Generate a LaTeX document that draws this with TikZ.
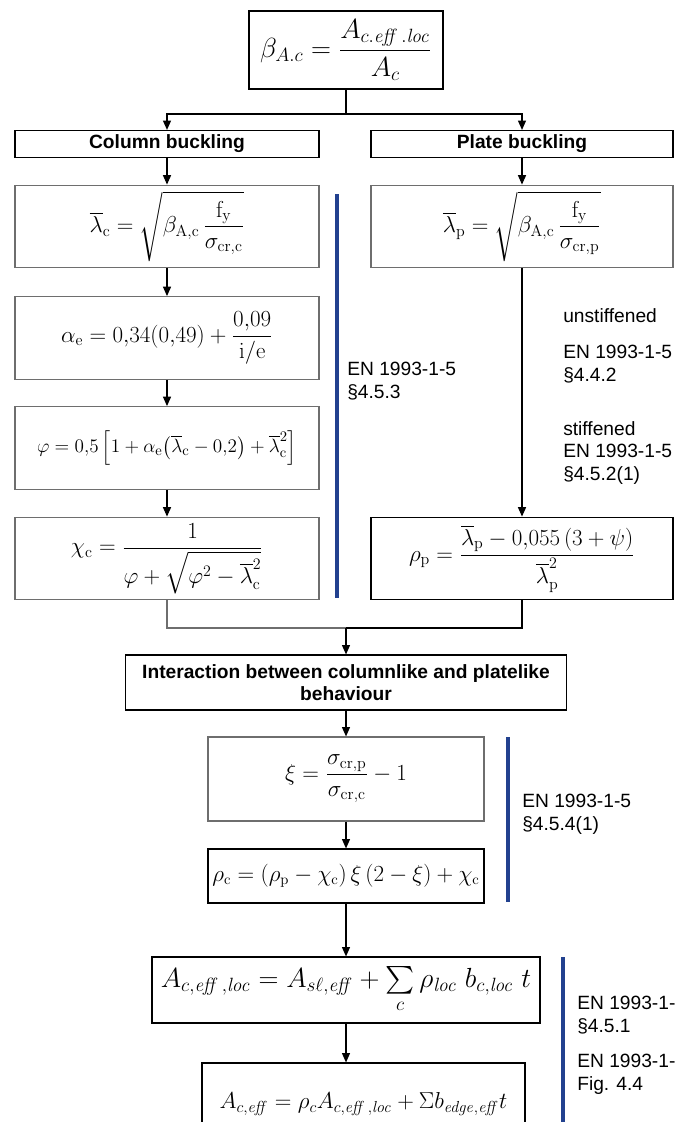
\documentclass[tikz,border=0pt]{standalone}
\usepackage[no-math]{fontspec}
\setmainfont{Liberation Sans}
\usepackage{amsmath}
\usetikzlibrary{arrows.meta, positioning}
\definecolor{refblue}{HTML}{22418F}
\definecolor{boxgray}{HTML}{6E6E6E}
\newcommand{\lb}{\overline{\lambda}}
\newcommand{\rmsub}[1]{\mathrm{#1}}

\begin{document}
\begin{tikzpicture}[
    x=0.75pt, y=-0.75pt,
    box/.style     = {rectangle, draw=black, line width=0.9pt, inner sep=0pt, align=center},
    gbox/.style    = {box, draw=boxgray},
    headbox/.style = {box, font=\fontsize{14.4}{17}\selectfont\bfseries},
    colbox/.style  = {gbox, minimum width=228pt, minimum height=62pt},
    link/.style    = {line width=0.8pt},
    arr/.style     = {link, -{Triangle[length=7pt,width=6pt]}},
    bar/.style     = {draw=refblue, line width=3pt},
    refnote/.style = {anchor=west, align=left, inner sep=0pt,
                      font=\fontsize{14.4}{17}\selectfont},
    mform/.style   = {font=\fontsize{17}{20}\selectfont}
  ]
  \useasboundingbox (0,0) rectangle (677,1122);

  % ── Reduction factor ──────────────────────────────────────────────────────
  \node[box, minimum width=145.5pt, minimum height=58.5pt,
        font=\fontsize{22}{26}\selectfont] (beta) at (346,50)
        {$\beta_{A.c} = \dfrac{A_{c.\mathit{eff}\,.\mathit{loc}}}{A_c}$};
  \coordinate (split) at (346,114);

  % ── Two branches ──────────────────────────────────────────────────────────
  \node[headbox, minimum width=228pt, minimum height=20.25pt] (colhead) at (167,144) {Column buckling};
  \node[headbox, minimum width=226.5pt, minimum height=20.25pt] (plahead) at (522,144) {Plate buckling};

  \node[colbox, mform] (lamc) at (167,226.5)
        {$\lb_{\rmsub c} = \sqrt{\beta_{\rmsub{A,c}}\,\dfrac{\rmsub{f}_{\rmsub y}}{\sigma_{\rmsub{cr,c}}}}$};
  \node[colbox, mform, minimum width=226.5pt] (lamp) at (522,226.5)
        {$\lb_{\rmsub p} = \sqrt{\beta_{\rmsub{A,c}}\,\dfrac{\rmsub{f}_{\rmsub y}}{\sigma_{\rmsub{cr,p}}}}$};

  \node[colbox, mform] (alpha) at (167,338)
        {$\alpha_{\rmsub e} = 0{,}34(0{,}49) + \dfrac{0{,}09}{\rmsub{i/e}}$};
  \node[colbox, font=\fontsize{15}{18}\selectfont] (phi) at (167,448)
        {$\varphi = 0{,}5\left[1+\alpha_{\rmsub e}\bigl(\lb_{\rmsub c}-0{,}2\bigr)+\lb_{\rmsub c}^{2}\right]$};
  \node[colbox, mform] (chi) at (167,558.5)
        {$\chi_{\rmsub c} = \dfrac{1}{\varphi+\sqrt{\varphi^{2}-\lb_{\rmsub c}^{2}}}$};
  \node[box, mform, minimum width=226.5pt, minimum height=62pt] (rhop) at (522,558.5)
        {$\rho_{\rmsub p} = \dfrac{\lb_{\rmsub p}-0{,}055\left(3+\psi\right)}{\lb_{\rmsub p}^{2}}$};
  \coordinate (merge) at (346,628);

  % ── Interaction ───────────────────────────────────────────────────────────
  \node[headbox, minimum width=330.75pt, minimum height=41.25pt] (inter) at (346,682.5)
        {Interaction between columnlike and platelike\\behaviour};
  \node[gbox, mform, minimum width=207pt, minimum height=63pt] (xi) at (346,779)
        {$\xi = \dfrac{\sigma_{\rmsub{cr,p}}}{\sigma_{\rmsub{cr,c}}} - 1$};
  \node[box, font=\fontsize{16}{19}\selectfont, minimum width=207pt, minimum height=40.5pt] (rhoc) at (346,876)
        {$\rho_{\rmsub c} = \left(\rho_{\rmsub p}-\chi_{\rmsub c}\right)\xi\left(2-\xi\right)+\chi_{\rmsub c}$};

  % ── Effective area ────────────────────────────────────────────────────────
  \node[box, minimum width=291pt, minimum height=49.5pt,
        font=\fontsize{22}{26}\selectfont] (aloc) at (346,990)
        {$A_{c,\mathit{eff}\,,\mathit{loc}} = A_{s\ell,\mathit{eff}} + \sum\limits_{c}\rho_{\mathit{loc}}\;b_{c,\mathit{loc}}\;t$};
  \node[box, minimum width=242.25pt, minimum height=67.5pt,
        font=\fontsize{18}{22}\selectfont] (aeff) at (363.5,1108)
        {\raisebox{11pt}{$A_{c,\mathit{eff}} = \rho_c A_{c,\mathit{eff}\,,\mathit{loc}} + \Sigma b_{\mathit{edge},\mathit{eff}}t$}};

  % ── Connectors ────────────────────────────────────────────────────────────
  \draw[link] (beta.south) -- (split);
  \draw[arr] (split) -| (colhead.north);
  \draw[arr] (split) -| (plahead.north);
  \draw[arr] (colhead) -- (lamc);
  \draw[arr] (plahead) -- (lamp);
  \draw[arr] (lamc) -- (alpha);
  \draw[arr] (alpha) -- (phi);
  \draw[arr] (phi) -- (chi);
  \draw[arr] (lamp) -- (rhop);
  \draw[link, boxgray] (chi.south) |- (merge);
  \draw[link] (rhop.south) |- (merge);
  \draw[arr] (merge) -- (inter.north);
  \draw[arr] (inter) -- (xi);
  \draw[arr] (xi) -- (rhoc);
  \draw[arr] (rhoc) -- (aloc);
  \draw[arr] (aloc.south) -- (aloc.south |- aeff.north);

  % ── Code references ───────────────────────────────────────────────────────
  \draw[bar] (337,194) -- (337,598);
  \node[refnote] (sec453) at (347,381) {EN 1993-1-5\\\S4.5.3};
  \node[refnote] (unstiff) at (563,316) {unstiffened};
  \node[refnote] (sec442) at (563,364) {EN 1993-1-5\\\S4.4.2};
  \node[refnote] (stiff) at (563,453) {stiffened\\EN 1993-1-5\\\S4.5.2(1)};

  \draw[bar] (508,737) -- (508,902);
  \node[refnote] (sec454) at (522,814) {EN 1993-1-5\\\S4.5.4(1)};

  \draw[bar] (563,957) -- (563,1122);
  \node[refnote] (sec451) at (577,1015) {EN 1993-1-\\\S4.5.1};
  \node[refnote] (fig44) at (577,1074) {EN 1993-1-\\Fig. 4.4};

\end{tikzpicture}
\end{document}
